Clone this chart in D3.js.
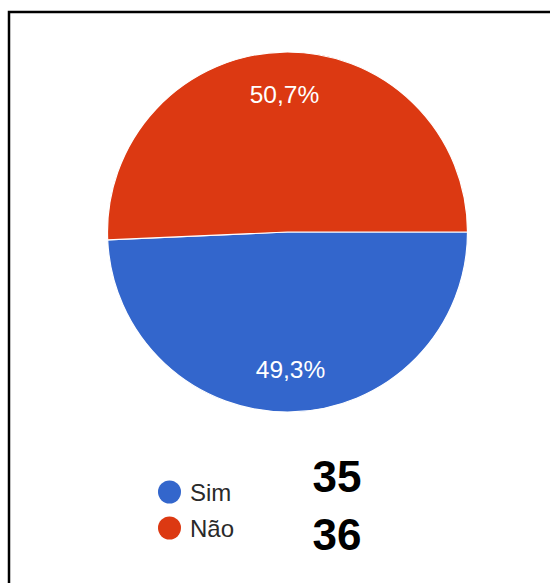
<!DOCTYPE html>
<html>
<head>
<meta charset="utf-8">
<script src="https://cdn.jsdelivr.net/npm/d3@7"></script>
<style>
  html, body { margin: 0; padding: 0; background: #fff; }
  svg { display: block; }
</style>
</head>
<body>
<svg id="chart" width="550" height="583"></svg>
<script>
// Survey answers
const categories = ["Sim", "Não"];
const counts = [35, 36];
const colors = ["#3366cc", "#dc3912"];

const svg = d3.select("#chart");
const W = 550, H = 583;

// Frame (top and left edges visible)
svg.append("path")
  .attr("d", `M9,${H} L9,12 L${W},12`)
  .attr("fill", "none")
  .attr("stroke", "#000")
  .attr("stroke-width", 2.5);

const cx = 287.5, cy = 232, r = 180;
const total = d3.sum(counts);

const pie = d3.pie().sort(null)
  .startAngle(Math.PI / 2)
  .endAngle(Math.PI / 2 + 2 * Math.PI);
const arcs = pie(counts);

const arc = d3.arc().innerRadius(0).outerRadius(r);
const labelArc = d3.arc().innerRadius(r * 0.765).outerRadius(r * 0.765);

const g = svg.append("g").attr("transform", `translate(${cx},${cy})`);

g.selectAll("path.slice")
  .data(arcs)
  .join("path")
  .attr("class", "slice")
  .attr("d", arc)
  .attr("fill", (d, i) => colors[i])
  .attr("stroke", "#fff")
  .attr("stroke-width", 1.2);

const fmt = v => (v * 100).toFixed(1).replace(".", ",") + "%";

g.selectAll("text.pct")
  .data(arcs)
  .join("text")
  .attr("class", "pct")
  .attr("transform", d => `translate(${labelArc.centroid(d)})`)
  .attr("text-anchor", "middle")
  .attr("dy", "0.36em")
  .attr("font-family", "Arial, 'Liberation Sans', sans-serif")
  .attr("font-size", 24.5)
  .attr("fill", "#fff")
  .text(d => fmt(d.value / total));

// Legend
const legendY = d3.scaleBand().domain(categories).range([474, 546]);
const leg = svg.selectAll("g.leg")
  .data(categories)
  .join("g")
  .attr("class", "leg")
  .attr("transform", d => `translate(0,${legendY(d) + legendY.bandwidth() / 2})`);

leg.append("circle")
  .attr("cx", 169.5)
  .attr("cy", 0)
  .attr("r", 11.5)
  .attr("fill", (d, i) => colors[i]);

leg.append("text")
  .attr("x", 190)
  .attr("dy", "0.36em")
  .attr("font-family", "Arial, 'Liberation Sans', sans-serif")
  .attr("font-size", 24)
  .attr("fill", "#2a2a2a")
  .text(d => d);

// Raw counts
svg.selectAll("text.count")
  .data(counts)
  .join("text")
  .attr("class", "count")
  .attr("x", 337)
  .attr("y", (d, i) => [492, 550][i])
  .attr("text-anchor", "middle")
  .attr("font-family", "Arial, 'Liberation Sans', sans-serif")
  .attr("font-weight", "bold")
  .attr("font-size", 44)
  .attr("fill", "#000")
  .text(d => d);
</script>
</body>
</html>
